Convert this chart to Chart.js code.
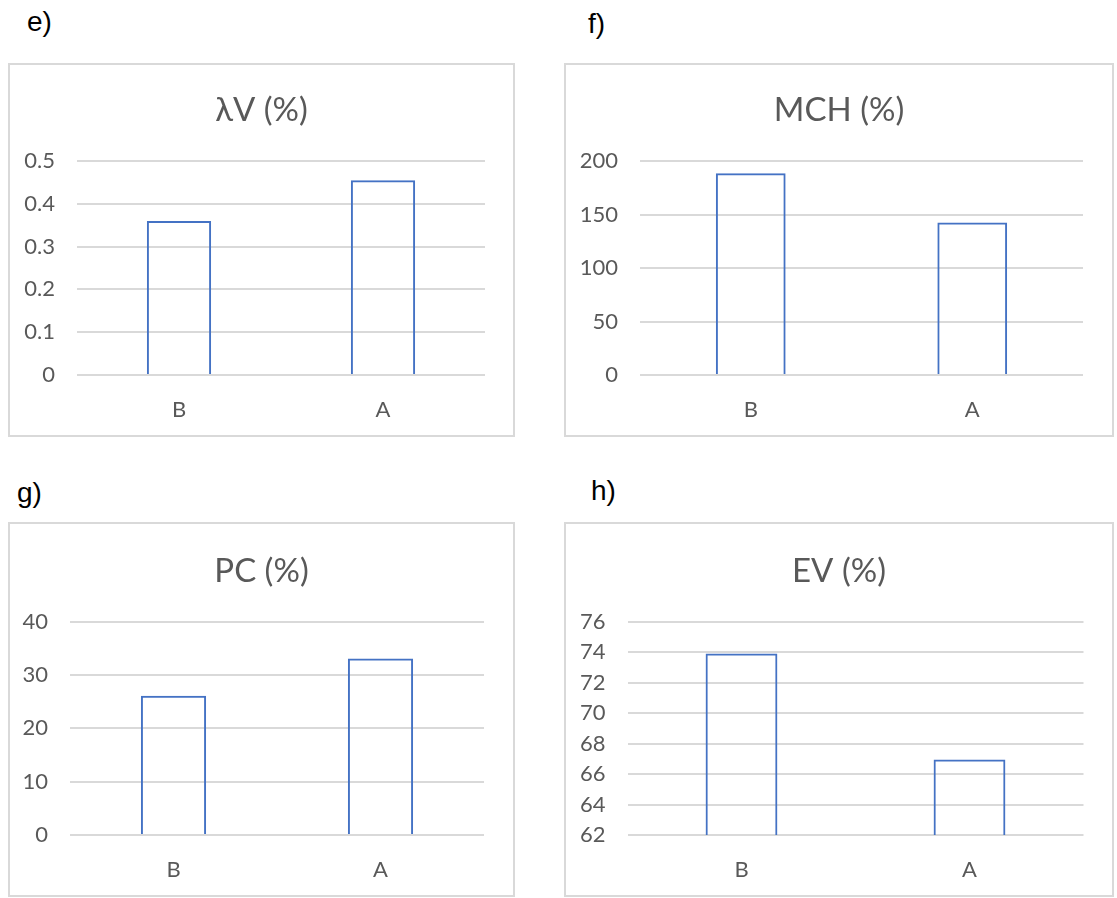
<!DOCTYPE html>
<html>
<head>
<meta charset="utf-8">
<script src="https://cdn.jsdelivr.net/npm/chart.js@4/dist/chart.umd.min.js"></script>
<style>
  html, body { margin: 0; padding: 0; background: #ffffff; }
  body { width: 1117px; height: 898px; position: relative; overflow: hidden; }
  .lbl { position: absolute; font-family: "Liberation Sans", Arial, sans-serif; font-size: 28px; line-height: 28px; color: #000; }
  .box { position: absolute; box-sizing: border-box; border: 2px solid #d9d9d9; background: #fff; }
  .box canvas { position: absolute; left: 0; top: 0; }
</style>
</head>
<body>
<div class="lbl" style="left:27px; top:8px;">e)</div>
<div class="lbl" style="left:588px; top:10px;">f)</div>
<div class="lbl" style="left:17px; top:479px;">g)</div>
<div class="lbl" style="left:591px; top:477px;">h)</div>

<div class="box" style="left:8px; top:63px; width:507px; height:374px;"><canvas id="c1"></canvas></div>
<div class="box" style="left:564px; top:63px; width:550px; height:374px;"><canvas id="c2"></canvas></div>
<div class="box" style="left:8px; top:522px; width:507px; height:375px;"><canvas id="c3"></canvas></div>
<div class="box" style="left:564px; top:522px; width:550px; height:375px;"><canvas id="c4"></canvas></div>

<script>
// ---- data ----
const categories = ['B', 'A'];

const lambdaVTitle = 'λV (%)';
const lambdaVValues = [0.36, 0.455];
const lambdaVTicks = [0, 0.5, 0.1];   // min, max, step

const mchTitle = 'MCH (%)';
const mchValues = [188.5, 142.5];
const mchTicks = [0, 200, 50];

const pcTitle = 'PC (%)';
const pcValues = [26.1, 33.05];
const pcTicks = [0, 40, 10];

const evTitle = 'EV (%)';
const evValues = [73.9, 66.95];
const evTicks = [62, 76, 2];

// ---- layout helper ----
const FONT = 'Lato, "Open Sans", sans-serif';
const TXT = '#595959';

function makeChart(canvasId, boxW, boxH, title, values, ticks, plot, titleMid) {
  const cw = boxW - 4, ch = boxH - 4;
  const cv = document.getElementById(canvasId);
  cv.width = cw; cv.height = ch;
  const titleSize = 33;
  const titleLH = titleSize * 1.2;
  const padTop = titleMid - titleLH / 2;
  const padBottom = plot.t - (padTop + titleLH);
  return new Chart(cv, {
    type: 'bar',
    data: {
      labels: categories,
      datasets: [{
        data: values,
        backgroundColor: 'rgba(255,255,255,0)',
        borderColor: '#4472C4',
        borderWidth: 2,
        barPercentage: 0.315,
        categoryPercentage: 1.0,
        yAxisID: 'y'
      }]
    },
    options: {
      responsive: false,
      animation: false,
      layout: { padding: 0 },
      plugins: {
        legend: { display: false },
        tooltip: { enabled: false },
        title: {
          display: true,
          text: title,
          color: TXT,
          font: { family: FONT, size: titleSize, weight: 'normal', lineHeight: 1.2 },
          padding: { top: padTop, bottom: padBottom }
        }
      },
      scales: {
        x: {
          grid: { display: false, drawTicks: false },
          border: { display: false },
          ticks: { color: TXT, font: { family: FONT, size: 22 }, padding: 22 },
          afterFit: (s) => { s.height = ch - plot.b; }
        },
        y: {
          min: ticks[0], max: ticks[1],
          grid: { color: '#d9d9d9', lineWidth: 2, drawTicks: false },
          border: { display: false },
          ticks: { stepSize: ticks[2], color: TXT, font: { family: FONT, size: 22 }, padding: 22 },
          afterFit: (s) => { s.width = plot.l; }
        },
        yPad: {
          position: 'right',
          display: true,
          grid: { display: false, drawTicks: false },
          border: { display: false },
          ticks: { display: false },
          afterFit: (s) => { s.width = cw - plot.r; }
        }
      }
    }
  });
}

// plot rectangles in canvas coordinates (canvas origin = box + 2px border)
makeChart('c1', 507, 374, lambdaVTitle, lambdaVValues, lambdaVTicks, { l: 67, r: 475, t: 96, b: 310 }, 45);
makeChart('c2', 550, 374, mchTitle, mchValues, mchTicks, { l: 74, r: 517, t: 96, b: 310 }, 45);
makeChart('c3', 507, 375, pcTitle, pcValues, pcTicks, { l: 60, r: 474, t: 97.5, b: 311 }, 47);
makeChart('c4', 550, 375, evTitle, evValues, evTicks, { l: 61.5, r: 517.5, t: 97.5, b: 311 }, 47);
</script>
</body>
</html>
